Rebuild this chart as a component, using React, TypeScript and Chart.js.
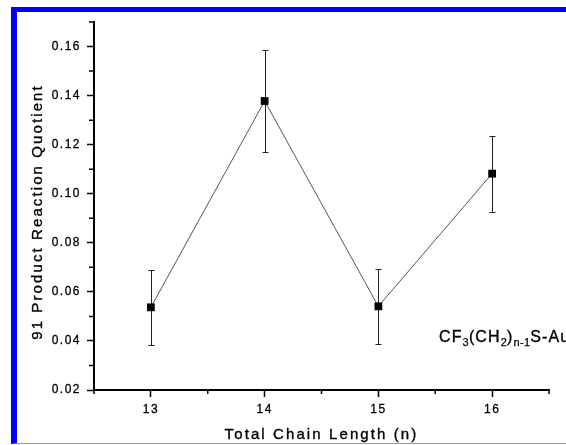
import { useEffect, useRef } from "react";
import { Chart, registerables } from "chart.js";
Chart.register(...registerables);

// ---- data ----
const chainLength = [13, 14, 15, 16];
const quotient = [0.0537, 0.1378, 0.0541, 0.1082];
const quotientError = [0.0153, 0.0208, 0.0153, 0.0155];

const xMajorTicks = [13, 14, 15, 16];
const xMinorTicks = [12.5, 13.5, 14.5, 15.5, 16.5];
const yMajorTicks = [0.02, 0.04, 0.06, 0.08, 0.1, 0.12, 0.14, 0.16];
const yMinorTicks = [0.03, 0.05, 0.07, 0.09, 0.11, 0.13, 0.15, 0.17];

const X_MIN = 12.5;
const X_MAX = 16.5;
const Y_MIN = 0.02;
const Y_MAX = 0.17;

const xTitle = "Total Chain Length (n)";
const yTitle = "91 Product Reaction Quotient";
// annotation pieces: [text, isSubscript]
const annotation: [string, boolean][] = [
  ["CF", false],
  ["3", true],
  ["(CH", false],
  ["2", true],
  [")", false],
  ["n-1", true],
  ["S-Au", false],
];

const FONT = '"Liberation Sans", Arial, sans-serif';

function heavyText(ctx: CanvasRenderingContext2D, t: string, x: number, y: number, w = 0.35) {
  ctx.fillText(t, x, y);
  ctx.lineWidth = w;
  ctx.strokeStyle = "#000";
  ctx.strokeText(t, x, y);
}

const customPlugin = {
  id: "customDraw",
  beforeDraw(chart: any) {
    (chart.ctx as any).letterSpacing = "1.5px";
  },
  beforeDatasetsDraw(chart: any) {
    const { ctx, scales } = chart;
    const x = scales.x;
    const y = scales.y;
    ctx.save();
    ctx.strokeStyle = "#222";
    ctx.lineWidth = 1;
    chainLength.forEach((cx, i) => {
      const px = Math.round(x.getPixelForValue(cx)) + 0.5;
      const top = Math.round(y.getPixelForValue(quotient[i] + quotientError[i])) + 0.5;
      const bot = Math.round(y.getPixelForValue(quotient[i] - quotientError[i])) + 0.5;
      ctx.beginPath();
      ctx.moveTo(px, top);
      ctx.lineTo(px, bot);
      ctx.moveTo(px - 3, top);
      ctx.lineTo(px + 3, top);
      ctx.moveTo(px - 3, bot);
      ctx.lineTo(px + 3, bot);
      ctx.stroke();
    });
    ctx.restore();
  },
  afterDraw(chart: any) {
    const { ctx, chartArea, scales } = chart;
    const x = scales.x;
    const y = scales.y;
    ctx.save();
    // minor ticks
    ctx.strokeStyle = "#000";
    ctx.lineWidth = 1.5;
    ctx.beginPath();
    xMinorTicks.forEach((v) => {
      const px = x.getPixelForValue(v);
      ctx.moveTo(px, chartArea.bottom);
      ctx.lineTo(px, chartArea.bottom + 4);
    });
    yMinorTicks.forEach((v) => {
      const py = y.getPixelForValue(v);
      ctx.moveTo(chartArea.left, py);
      ctx.lineTo(chartArea.left - 5, py);
    });
    ctx.stroke();

    // axis titles
    ctx.fillStyle = "#000";
    ctx.font = `15px ${FONT}`;
    (ctx as any).letterSpacing = "2.1px";
    ctx.textAlign = "center";
    ctx.textBaseline = "alphabetic";
    heavyText(ctx, xTitle, (chartArea.left + chartArea.right) / 2, 439);

    ctx.save();
    ctx.translate(42, (chartArea.top + chartArea.bottom) / 2 + 6);
    ctx.rotate(-Math.PI / 2);
    heavyText(ctx, yTitle, 0, 0);
    ctx.restore();

    // annotation
    ctx.textAlign = "left";
    let ax = 439;
    const ay = 342;
    annotation.forEach(([t, sub]) => {
      if (sub) {
        ctx.font = `11px ${FONT}`;
        (ctx as any).letterSpacing = "0.3px";
        heavyText(ctx, t, ax, ay + 4, 0.25);
      } else {
        ctx.font = `16px ${FONT}`;
        (ctx as any).letterSpacing = "1.1px";
        heavyText(ctx, t, ax, ay);
      }
      ax += ctx.measureText(t).width;
    });
    ctx.restore();
  },
};

export default function App() {
  const canvasRef = useRef<HTMLCanvasElement | null>(null);

  useEffect(() => {
    if (!canvasRef.current) return;
    Chart.defaults.font.family = FONT;
    const chart = new Chart(canvasRef.current, {
      type: "scatter",
      data: {
        datasets: [
          {
            data: chainLength.map((c, i) => ({ x: c, y: quotient[i] })),
            showLine: true,
            borderColor: "#555",
            borderWidth: 1,
            backgroundColor: "#000",
            pointStyle: "rect",
            pointRadius: 5.5,
            pointBorderWidth: 0,
            pointBackgroundColor: "#000",
            tension: 0,
          },
        ],
      },
      options: {
        responsive: false,
        animation: false,
        devicePixelRatio: 1,
        layout: { padding: { left: 0, right: 17, top: 22, bottom: 0 } },
        plugins: { legend: { display: false }, tooltip: { enabled: false } },
        scales: {
          x: {
            type: "linear",
            min: X_MIN,
            max: X_MAX,
            afterBuildTicks: (scale: any) => {
              scale.ticks = xMajorTicks.map((v) => ({ value: v }));
            },
            afterFit: (scale: any) => {
              scale.height = 55;
            },
            ticks: {
              color: "#000",
              font: { size: 12, family: FONT },
              padding: 5,
              maxRotation: 0,
              autoSkip: false,
              textStrokeColor: "#000",
              textStrokeWidth: 0.3,
              callback: (v: any) => String(v),
            },
            grid: {
              display: true,
              drawOnChartArea: false,
              drawTicks: true,
              tickLength: 7,
              tickColor: "#000",
              tickWidth: 1.5,
            },
            border: { display: true, color: "#000", width: 2 },
          },
          y: {
            type: "linear",
            min: Y_MIN,
            max: Y_MAX,
            afterBuildTicks: (scale: any) => {
              scale.ticks = yMajorTicks.map((v) => ({ value: v }));
            },
            afterFit: (scale: any) => {
              scale.width = 94;
            },
            ticks: {
              color: "#000",
              font: { size: 12, family: FONT },
              padding: 6,
              autoSkip: false,
              textStrokeColor: "#000",
              textStrokeWidth: 0.3,
              callback: (v: any) => Number(v).toFixed(2),
            },
            grid: {
              display: true,
              drawOnChartArea: false,
              drawTicks: true,
              tickLength: 7,
              tickColor: "#000",
              tickWidth: 1.5,
            },
            border: { display: true, color: "#000", width: 2 },
          },
        },
      },
      plugins: [customPlugin],
    });
    return () => chart.destroy();
  }, []);

  return (
    <div style={{ position: "absolute", left: 0, top: 0, width: 566, height: 445, overflow: "hidden", background: "#fff" }}>
      <div
        style={{
          position: "absolute",
          left: 11,
          top: 7,
          width: 555,
          height: 437,
          boxSizing: "border-box",
          borderTop: "5px solid #0000ff",
          borderLeft: "6px solid #0000ff",
          borderBottom: "1px solid #9090ff",
        }}
      />
      <canvas
        ref={canvasRef}
        width={566}
        height={445}
        style={{ position: "absolute", left: 0, top: 0, width: 566, height: 445 }}
      />
    </div>
  );
}
